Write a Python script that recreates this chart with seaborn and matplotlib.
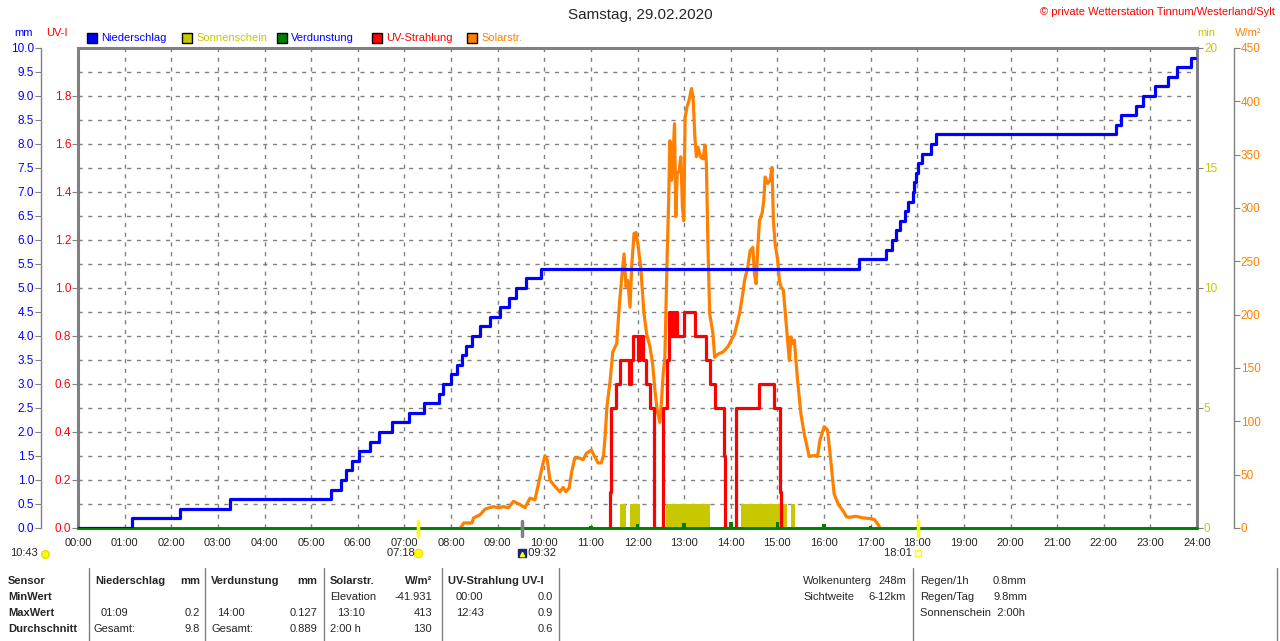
import numpy as np
import matplotlib
matplotlib.use("Agg")
import matplotlib.pyplot as plt
import seaborn as sns
from matplotlib.lines import Line2D
from matplotlib.patches import Rectangle
from matplotlib.transforms import blended_transform_factory

# --- Daten (Stunden des Tages) ---
hours = list(range(0, 25))
hour_labels = [f"{h:02d}:00" for h in hours]

# Niederschlag kumuliert (mm), Treppenfunktion
rain_t = [0.0, 1.15, 2.19, 3.27, 5.436, 5.65, 5.74, 5.88, 6.03, 6.26, 6.46, 6.74,
          7.09, 7.42, 7.74, 7.83, 7.99, 8.13, 8.24, 8.33, 8.44, 8.63, 8.84, 9.05,
          9.24, 9.40, 9.60, 9.94, 16.76, 17.34, 17.45, 17.54, 17.64, 17.74, 17.81,
          17.90, 17.94, 17.97, 18.02, 18.10, 18.29, 18.41, 22.27, 22.38, 22.69,
          22.84, 23.09, 23.38, 23.58, 23.88, 23.96]
rain_mm = [0.0, 0.2, 0.4, 0.6, 0.8, 1.0, 1.2, 1.4, 1.6, 1.8, 2.0, 2.2,
           2.4, 2.6, 2.8, 3.0, 3.2, 3.4, 3.6, 3.8, 4.0, 4.2, 4.4, 4.6,
           4.8, 5.0, 5.2, 5.4, 5.6, 5.8, 6.0, 6.2, 6.4, 6.6, 6.8,
           7.0, 7.2, 7.4, 7.6, 7.8, 8.0, 8.2, 8.4, 8.6, 8.8,
           9.0, 9.2, 9.4, 9.6, 9.8, 9.8]

# UV-Strahlung (UV-I), Treppenfunktion
uv_t = [11.38, 11.40, 11.43, 11.541, 11.626, 11.826, 11.85, 11.897, 12.018, 12.06,
        12.125, 12.181, 12.267, 12.352, 12.552, 12.637, 12.68, 12.71, 12.73, 12.76,
        12.78, 12.81, 12.83, 12.85, 12.993, 13.228, 13.477, 13.548, 13.655, 13.85,
        13.883, 14.103, 14.616, 14.922, 15.06, 15.078]
uv_val = [0.0, 0.15, 0.5, 0.6, 0.7, 0.6, 0.7, 0.8, 0.7, 0.8,
          0.7, 0.6, 0.5, 0.0, 0.5, 0.7, 0.9, 0.8, 0.9, 0.8,
          0.9, 0.8, 0.9, 0.8, 0.9, 0.8, 0.7, 0.6, 0.5, 0.3,
          0.0, 0.5, 0.6, 0.5, 0.15, 0.0]

# Solarstrahlung (W/m²)
solar_t = [8.20, 8.235, 8.27, 8.448, 8.484, 8.626, 8.733, 8.911, 9.018, 9.125,
           9.231, 9.338, 9.48, 9.587, 9.694, 9.801, 9.872, 9.943, 10.014, 10.064,
           10.121, 10.228, 10.335, 10.406, 10.463, 10.534, 10.584, 10.655, 10.762, 10.833,
           10.904, 11.011, 11.082, 11.153, 11.224, 11.274, 11.31, 11.345, 11.413, 11.470,
           11.555, 11.612, 11.669, 11.712, 11.754, 11.790, 11.840, 11.875, 11.925, 11.968,
           12.018, 12.068, 12.139, 12.196, 12.267, 12.324, 12.374, 12.423, 12.480, 12.516,
           12.552, 12.587, 12.637, 12.665, 12.694, 12.730, 12.765, 12.794, 12.822, 12.851,
           12.893, 12.929, 12.964, 12.993, 13.021, 13.064, 13.107, 13.157, 13.192, 13.228,
           13.263, 13.299, 13.349, 13.406, 13.448, 13.477, 13.512, 13.548, 13.619, 13.655,
           13.726, 13.833, 13.940, 14.082, 14.189, 14.260, 14.295, 14.367, 14.416, 14.473,
           14.509, 14.544, 14.580, 14.616, 14.673, 14.708, 14.737, 14.794, 14.843, 14.886,
           14.915, 14.950, 15.007, 15.043, 15.078, 15.128, 15.171, 15.221, 15.256, 15.292,
           15.327, 15.363, 15.434, 15.505, 15.577, 15.683, 15.790, 15.861, 15.911, 16.004,
           16.075, 16.146, 16.217, 16.31, 16.42, 16.48, 16.55, 16.68, 16.82, 16.95,
           17.08, 17.17, 17.20]
solar_w = [0, 2, 4.7, 4.7, 9.4, 12.5, 17.8, 20, 19, 20,
           19, 25, 22, 19, 28, 26.5, 40.6, 54.7, 67.8, 64,
           45, 39, 34, 38, 34, 37.5, 51.6, 65.6, 65.6, 64,
           70, 73, 67, 61, 61, 68.8, 89, 114, 138, 165,
           173, 210, 238, 257, 226, 232, 207, 245, 276, 277,
           263, 245, 201, 182, 170, 154, 129, 110, 99, 120,
           145, 160, 257, 301, 363, 326, 351, 379, 292, 332,
           335, 348, 301, 288, 385, 395, 401, 412, 404, 368,
           348, 357, 348, 346, 359, 342, 263, 201, 182, 160,
           163, 165, 170, 182, 201, 220, 232, 245, 260, 263,
           238, 229, 263, 288, 295, 307, 329, 323, 326, 338,
           288, 267, 251, 232, 226, 223, 201, 176, 157, 179,
           173, 176, 138, 107, 88, 67, 68, 67, 82, 95,
           92, 63, 32, 22, 15.4, 10.6, 10, 11, 9.6, 9,
           8, 2.6, 0]

# Sonnenschein (min), Intervalle
sun_start = [11.626, 11.84, 12.61, 14.224, 15.299]
sun_end = [11.747, 12.053, 13.548, 15.206, 15.384]
sun_min = [1.0, 1.0, 1.0, 1.0, 1.0]

# Verdunstung stündlich (mm)
evap_mm = [0.0, 0.01, 0.01, 0.01, 0.01, 0.01, 0.01, 0.01, 0.01, 0.01, 0.02, 0.04,
           0.08, 0.11, 0.127, 0.12, 0.09, 0.04, 0.02, 0.01, 0.01, 0.01, 0.01, 0.01, 0.01]

mm_ticks = [0.0, 0.5, 1.0, 1.5, 2.0, 2.5, 3.0, 3.5, 4.0, 4.5, 5.0, 5.5, 6.0, 6.5,
            7.0, 7.5, 8.0, 8.5, 9.0, 9.5, 10.0]
uv_ticks = [0.0, 0.2, 0.4, 0.6, 0.8, 1.0, 1.2, 1.4, 1.6, 1.8]
min_ticks = [0, 5, 10, 15, 20]
w_ticks = [0, 50, 100, 150, 200, 250, 300, 350, 400, 450]

# Zeitmarken unter der Achse
sunrise, sunset, noon_mark = 7.3, 18.017, 9.533

BLUE = "#0000FF"
RED = "#FF0000"
ORANGE = "#FF8000"
OLIVE = "#C8C800"
GREEN = "#008000"
GRAY = "#808080"

sns.set_style("white")
plt.rcParams["font.family"] = ["Liberation Sans", "DejaVu Sans"]
plt.rcParams["font.size"] = 8

W, H = 1280, 641
fig = plt.figure(figsize=(W / 100, H / 100), dpi=100)


def fx(x):
    return x / W


def fy(y):
    return 1 - y / H


rect = [fx(78), fy(528), (1197 - 78) / W, 480 / H]
ax_min = fig.add_axes(rect)
ax_w = ax_min.twinx()
ax_uv = ax_min.twinx()
ax_mm = ax_min.twinx()

# Basisachse: Gitter, Rahmen, Sonnenschein
ax_min.set_xlim(0, 24)
ax_min.set_ylim(0, 20)
ax_min.set_xticks(hours)
ax_min.set_xticklabels(hour_labels)
ax_min.set_yticks(min_ticks)
ax_min.set_yticks(np.arange(0, 21, 1), minor=True)
ax_min.yaxis.tick_right()
ax_min.grid(True, which="both", color=GRAY, ls=(0, (3, 4)), lw=1)
ax_min.set_axisbelow(True)
ax_min.tick_params(axis="x", length=0, pad=7, labelsize=8)
ax_min.tick_params(axis="y", which="major", right=True, length=4, color=GRAY,
                   labelcolor=OLIVE, pad=1, labelsize=8.5)
ax_min.tick_params(axis="y", which="minor", length=0)
for s in ax_min.spines.values():
    s.set_color(GRAY)
    s.set_linewidth(2.2)

dur = [e - s for s, e in zip(sun_start, sun_end)]
ax_min.bar(sun_start, sun_min, width=dur, align="edge", color=OLIVE, linewidth=0)

# Solarstrahlung
sns.lineplot(x=solar_t, y=solar_w, ax=ax_w, color=ORANGE, lw=2.3,
             estimator=None, sort=False)
ax_w.set_ylim(0, 450)
ax_w.set_yticks(w_ticks)
ax_w.spines["right"].set_position(("outward", 26.6))
for k in ["top", "bottom", "left"]:
    ax_w.spines[k].set_visible(False)
ax_w.spines["right"].set_color(GRAY)
ax_w.spines["right"].set_linewidth(1)
ax_w.tick_params(axis="y", length=4, color=GRAY, labelcolor=ORANGE, pad=1, labelsize=8.5)

# UV-Strahlung
sns.lineplot(x=uv_t, y=uv_val, ax=ax_uv, color=RED, lw=2.3, drawstyle="steps-post",
             estimator=None, sort=False)
ax_uv.set_ylim(0, 2.0)
ax_uv.set_yticks(uv_ticks)
ax_uv.set_yticklabels([f"{v:.1f}" for v in uv_ticks])
ax_uv.yaxis.tick_left()
for s in ax_uv.spines.values():
    s.set_visible(False)
ax_uv.tick_params(axis="y", length=4, color=GRAY, labelcolor=RED, pad=1, labelsize=8.5)

# Niederschlag + Verdunstung
ax_mm.bar(hours, evap_mm, width=0.08, color=GREEN, linewidth=0)
ax_mm.axhline(0, color=GREEN, lw=2, clip_on=False)
sns.lineplot(x=rain_t, y=rain_mm, ax=ax_mm, color=BLUE, lw=2.3, drawstyle="steps-post",
             estimator=None, sort=False)
ax_mm.set_ylim(0, 10)
ax_mm.set_yticks(mm_ticks)
ax_mm.set_yticklabels([f"{v:.1f}" for v in mm_ticks])
ax_mm.yaxis.tick_left()
ax_mm.spines["left"].set_visible(True)
ax_mm.spines["left"].set_position(("outward", 26.6))
ax_mm.spines["left"].set_color(GRAY)
ax_mm.spines["left"].set_linewidth(1)
for k in ["top", "bottom", "right"]:
    ax_mm.spines[k].set_visible(False)
ax_mm.tick_params(axis="y", length=4, color=GRAY, labelcolor=BLUE, pad=1, labelsize=8.5)

for a in (ax_min, ax_w, ax_uv, ax_mm):
    a.set_xlabel("")
    a.set_ylabel("")
ax_min.set_xlim(0, 24)

# Zeitmarken
tr = blended_transform_factory(ax_min.transData, fig.transFigure)
for t, c in [(sunrise, "#FFFF00"), (sunset, "#FFFF00"), (noon_mark, GRAY)]:
    fig.add_artist(Line2D([t, t], [fy(521), fy(536)], transform=tr, color=c, lw=2.5))
fig.text(fx(10), fy(553), "10:43", va="center", ha="left", fontsize=8)
fig.add_artist(Line2D([fx(45)], [fy(554)], marker="o", ms=5.5, color="#FFFF00",
                      markeredgecolor="#E0E000"))
fig.text(sunrise, fy(553), "07:18 ", transform=tr, va="center", ha="right", fontsize=8)
fig.add_artist(Line2D([sunrise], [fy(553)], transform=tr, marker="o", ms=6,
                      color="#FFFF00", markeredgecolor="#FFE000"))
fig.add_artist(Line2D([noon_mark], [fy(553)], transform=tr, marker="s", ms=6,
                      color="#1A237E", markeredgecolor="#1A237E"))
fig.add_artist(Line2D([noon_mark], [fy(554)], transform=tr, marker="^", ms=3,
                      color="#FFFF00", markeredgecolor="#FFFF00"))
fig.text(noon_mark, fy(553), "  09:32", transform=tr, va="center", ha="left", fontsize=8)
fig.text(sunset, fy(553), "18:01  ", transform=tr, va="center", ha="right", fontsize=8)
fig.add_artist(Line2D([sunset], [fy(553)], transform=tr, marker="s", ms=4,
                      color="white", markeredgecolor="#FFFF00"))

# Kopf
fig.text(0.5, fy(15), "Samstag, 29.02.2020", ha="center", va="center", fontsize=11)
fig.text(fx(1275), fy(12), "© private Wetterstation Tinnum/Westerland/Sylt",
         ha="right", va="center", fontsize=8, color=RED)
fig.text(fx(14), fy(33), "mm", color=BLUE, va="center", fontsize=8)
fig.text(fx(46), fy(33), "UV-I", color=RED, va="center", fontsize=8)
fig.text(fx(1197), fy(33), "min", color=OLIVE, va="center", fontsize=8)
fig.text(fx(1235), fy(33), "W/m²", color=ORANGE, va="center", fontsize=8)

legend_items = [("Niederschlag", BLUE, BLUE), ("Sonnenschein", OLIVE, OLIVE),
                ("Verdunstung", GREEN, BLUE), ("UV-Strahlung", RED, RED),
                ("Solarstr.", ORANGE, ORANGE)]
for i, (lab, box_c, txt_c) in enumerate(legend_items):
    x0 = 87 + i * 95
    fig.add_artist(Rectangle((fx(x0), fy(43)), 10 / W, 10 / H, transform=fig.transFigure,
                             facecolor=box_c, edgecolor="black", lw=1))
    fig.text(fx(x0 + 14), fy(38), lab, color=txt_c, va="center", fontsize=8)

# Tabelle unten
for x in [89, 205, 324, 442, 559, 913, 1277]:
    fig.add_artist(Line2D([fx(x), fx(x)], [fy(568), fy(641)], color=GRAY, lw=1))

rows_y = [581, 597, 613, 629]
bold_left = [(8, 0, "Sensor"), (8, 1, "MinWert"), (8, 2, "MaxWert"), (8, 3, "Durchschnitt"),
             (95, 0, "Niederschlag"), (211, 0, "Verdunstung"), (330, 0, "Solarstr."),
             (448, 0, "UV-Strahlung UV-I")]
for x, r, s in bold_left:
    fig.text(fx(x), fy(rows_y[r]), s, fontweight="bold", va="center", fontsize=8)
bold_right = [(200, 0, "mm"), (317, 0, "mm"), (432, 0, "W/m²")]
for x, r, s in bold_right:
    fig.text(fx(x), fy(rows_y[r]), s, fontweight="bold", va="center", ha="right", fontsize=8)

plain_left = [(330, 1, "Elevation"), (456, 1, "00:00"), (101, 2, "01:09"), (217, 2, "14:00"),
              (337, 2, "13:10"), (456, 2, "12:43"), (93, 3, "Gesamt:"), (211, 3, "Gesamt:"),
              (330, 3, "2:00 h")]
for x, r, s in plain_left:
    fig.text(fx(x), fy(rows_y[r]), s, va="center", fontsize=8)
plain_right = [(432, 1, "-41.931"), (553, 1, "0.0"), (200, 2, "0.2"), (317, 2, "0.127"),
               (432, 2, "413"), (553, 2, "0.9"), (200, 3, "9.8"), (317, 3, "0.889"),
               (432, 3, "130"), (553, 3, "0.6")]
for x, r, s in plain_right:
    fig.text(fx(x), fy(rows_y[r]), s, va="center", ha="right", fontsize=8)

fig.text(fx(803), fy(581), "Wolkenunterg", va="center", fontsize=8)
fig.text(fx(906), fy(581), "248m", va="center", ha="right", fontsize=8)
fig.text(fx(803), fy(597), "Sichtweite", va="center", fontsize=8)
fig.text(fx(906), fy(597), "6-12km", va="center", ha="right", fontsize=8)
fig.text(fx(920), fy(581), "Regen/1h", va="center", fontsize=8)
fig.text(fx(993), fy(581), "0.8mm", va="center", fontsize=8)
fig.text(fx(920), fy(597), "Regen/Tag", va="center", fontsize=8)
fig.text(fx(993), fy(597), "9.8mm", va="center", fontsize=8)
fig.text(fx(920), fy(613), "Sonnenschein  2:00h", va="center", fontsize=8)

fig.savefig("out.png", dpi=100)
